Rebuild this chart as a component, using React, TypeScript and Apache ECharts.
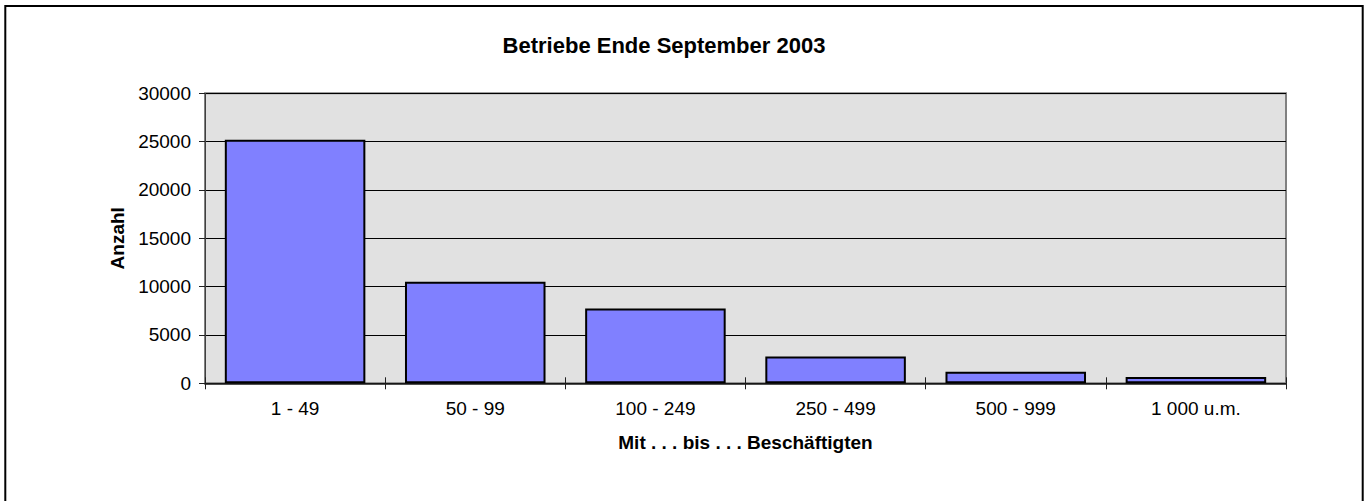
import React, { useEffect, useRef } from "react";
import * as echarts from "echarts";

const categories = ["1 - 49", "50 - 99", "100 - 249", "250 - 499", "500 - 999", "1 000 u.m."];
const betriebe = [25200, 10500, 7750, 2770, 1190, 660];
const yTicks = { min: 0, max: 30000, interval: 5000 };
const titleText = "Betriebe Ende September 2003";
const xName = "Mit . . . bis . . . Beschäftigten";
const yName = "Anzahl";

const FONT = '"Liberation Sans", Arial, sans-serif';

export default function App() {
  const ref = useRef<HTMLDivElement>(null);
  useEffect(() => {
    if (!ref.current) return;
    const chart = echarts.init(ref.current, null, { renderer: "svg" });
    chart.setOption({
      animation: false,
      backgroundColor: "#ffffff",
      textStyle: { fontFamily: FONT },
      graphic: [
        {
          type: "rect",
          shape: { x: 5.3, y: 6, width: 1357.4, height: 600 },
          style: { fill: "none", stroke: "#000000", lineWidth: 2 },
          silent: true,
        },
        {
          type: "text",
          x: 664,
          y: 45,
          style: {
            text: titleText,
            textAlign: "center",
            textVerticalAlign: "middle",
            fontFamily: FONT,
            fontWeight: "bold",
            fontSize: 22,
            fill: "#000000",
          },
        },
      ],
      grid: {
        left: 205,
        right: 84,
        top: 93.3,
        bottom: 117.7,
        show: true,
        backgroundColor: "#e1e1e1",
        borderColor: "#808080",
        borderWidth: 2,
      },
      xAxis: [
        {
          type: "category",
          data: categories,
          position: "bottom",
          boundaryGap: true,
          name: xName,
          nameLocation: "middle",
          nameGap: 50,
          nameTextStyle: { fontFamily: FONT, fontWeight: "bold", fontSize: 19, color: "#000" },
          axisLine: { show: true, lineStyle: { color: "#202020", width: 1.5 } },
          axisTick: { show: true, alignWithLabel: false, length: 6, lineStyle: { color: "#202020" } },
          axisLabel: { margin: 16, fontFamily: FONT, fontSize: 19, color: "#000", interval: 0 },
          splitLine: { show: false },
        },
        {
          type: "category",
          data: categories,
          position: "bottom",
          boundaryGap: true,
          axisLine: { show: false },
          axisTick: { show: true, inside: true, length: 6, lineStyle: { color: "#202020" } },
          axisLabel: { show: false },
          splitLine: { show: false },
        },
      ],
      yAxis: {
        type: "value",
        min: yTicks.min,
        max: yTicks.max,
        interval: yTicks.interval,
        name: yName,
        nameLocation: "middle",
        nameGap: 74,
        nameRotate: 90,
        nameTextStyle: { fontFamily: FONT, fontWeight: "bold", fontSize: 19, color: "#000" },
        axisLine: { show: true, lineStyle: { color: "#404040", width: 1 } },
        axisTick: { show: true, length: 6, lineStyle: { color: "#202020" } },
        axisLabel: {
          margin: 14,
          fontFamily: FONT,
          fontSize: 19,
          color: "#000",
          formatter: (v: number) => String(v),
        },
        splitLine: { show: true, lineStyle: { color: "#000000", width: 1 } },
      },
      series: [
        {
          type: "bar",
          xAxisIndex: 0,
          data: betriebe,
          barCategoryGap: "22%",
          itemStyle: { color: "#8080ff", borderColor: "#000000", borderWidth: 2 },
        },
      ],
    });
    return () => chart.dispose();
  }, []);
  return (
    <div
      ref={ref}
      style={{ position: "absolute", left: 0, top: 0, width: 1370, height: 501 }}
    />
  );
}
